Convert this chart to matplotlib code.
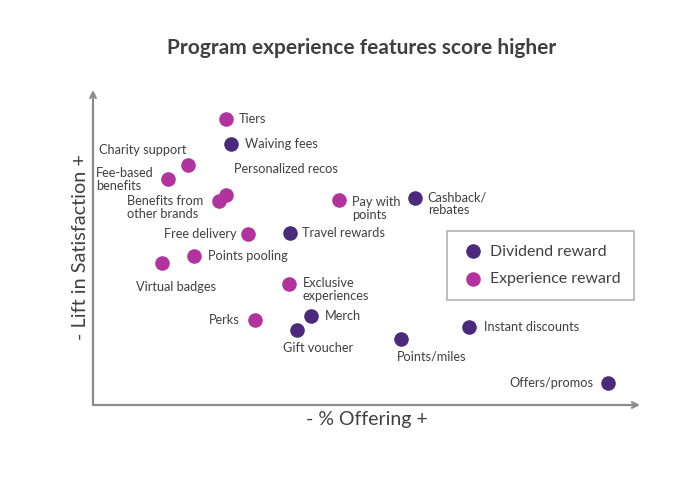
import matplotlib
matplotlib.use("Agg")
import matplotlib.pyplot as plt

plt.rcParams['font.family'] = ['Lato', 'DejaVu Sans']

features = ["Tiers", "Waiving fees", "Charity support", "Fee-based\nbenefits",
            "Personalized recos", "Benefits from\nother brands", "Pay with\npoints",
            "Cashback/\nrebates", "Free delivery", "Travel rewards", "Points pooling",
            "Virtual badges", "Exclusive\nexperiences", "Perks", "Merch", "Gift voucher",
            "Points/miles", "Instant discounts", "Offers/promos"]
offering = [24.3, 25.2, 17.4, 13.7, 24.3, 23.0, 45.0, 58.9, 28.3, 36.0, 18.5,
            12.6, 35.8, 29.6, 39.9, 37.3, 56.3, 68.7, 94.1]
satisfaction = [90.8, 82.9, 76.2, 71.7, 66.7, 64.8, 65.1, 65.7, 54.3, 54.6, 47.3,
                45.1, 38.4, 27.0, 28.3, 23.8, 21.0, 24.8, 7.0]
reward_type = ["Experience", "Dividend", "Experience", "Experience", "Experience",
               "Experience", "Experience", "Dividend", "Experience", "Dividend",
               "Experience", "Experience", "Experience", "Experience", "Dividend",
               "Dividend", "Dividend", "Dividend", "Dividend"]

colors = {"Dividend": "#4B2A7B", "Experience": "#B1339E"}
legend_names = {"Dividend": "Dividend reward", "Experience": "Experience reward"}

# label placement (offset in points, horizontal alignment)
label_pos = {
    "Tiers": ((9, 0), "left"),
    "Waiving fees": ((10, 0), "left"),
    "Charity support": ((-1, 11), "right"),
    "Fee-based\nbenefits": ((-10, 0), "right"),
    "Personalized recos": ((6, 19), "left"),
    "Benefits from\nother brands": ((-11, -5), "right"),
    "Pay with\npoints": ((9, -6), "left"),
    "Cashback/\nrebates": ((9, -4), "left"),
    "Free delivery": ((-8, 0), "right"),
    "Travel rewards": ((9, 0), "left"),
    "Points pooling": ((10, 0), "left"),
    "Virtual badges": ((10, -17), "center"),
    "Exclusive\nexperiences": ((10, -4), "left"),
    "Perks": ((-11, 0), "right"),
    "Merch": ((10, 0), "left"),
    "Gift voucher": ((15, -13), "center"),
    "Points/miles": ((22, -13), "center"),
    "Instant discounts": ((11, 0), "left"),
    "Offers/promos": ((-10, 0), "right"),
}

text_color = "#404040"
axis_color = "#8C8C8C"

fig = plt.figure(figsize=(6.88, 5.0), dpi=100)
ax = fig.add_axes([93/688, 95/500, 547/688, 315/500])
ax.set_xlim(0, 100)
ax.set_ylim(0, 100)

for t in ["Dividend", "Experience"]:
    xs = [x for x, r in zip(offering, reward_type) if r == t]
    ys = [y for y, r in zip(satisfaction, reward_type) if r == t]
    ax.scatter(xs, ys, s=110, color=colors[t], label=legend_names[t], zorder=3,
               linewidths=0)

for name, x, y in zip(features, offering, satisfaction):
    off, ha = label_pos[name]
    ax.annotate(name, (x, y), xytext=off, textcoords="offset points",
                ha=ha, va="center", fontsize=9.2, color=text_color,
                multialignment="left", linespacing=1.1)

for s in ax.spines.values():
    s.set_visible(False)
ax.set_xticks([])
ax.set_yticks([])

arrow_kw = dict(arrowstyle="->", color=axis_color, lw=1.6, shrinkA=0, shrinkB=0,
                mutation_scale=10)
ax.annotate("", xy=(0, 1), xytext=(0, 0), xycoords="axes fraction",
            textcoords="axes fraction", arrowprops=arrow_kw)
ax.annotate("", xy=(1, 0), xytext=(0, 0), xycoords="axes fraction",
            textcoords="axes fraction", arrowprops=arrow_kw)

ax.set_xlabel("- % Offering +", fontsize=14, color=text_color, labelpad=4)
ax.set_ylabel("- Lift in Satisfaction +", fontsize=14.3, color=text_color, labelpad=3)

fig.text(362/688, 1 - 48/500, "Program experience features score higher",
         ha="center", va="center", fontsize=15, fontweight="bold", color=text_color)

leg = ax.legend(loc="upper left", bbox_to_anchor=((447-93)/547, (405-231)/315),
                fontsize=11.4, frameon=True, fancybox=False, edgecolor="#A0A0A0",
                handletextpad=0.25, borderpad=0.85, labelspacing=0.85,
                markerscale=1.0, handlelength=1.6, borderaxespad=0)
for txt in leg.get_texts():
    txt.set_color(text_color)
leg.get_frame().set_linewidth(1.2)

fig.savefig("out.png", dpi=100)
